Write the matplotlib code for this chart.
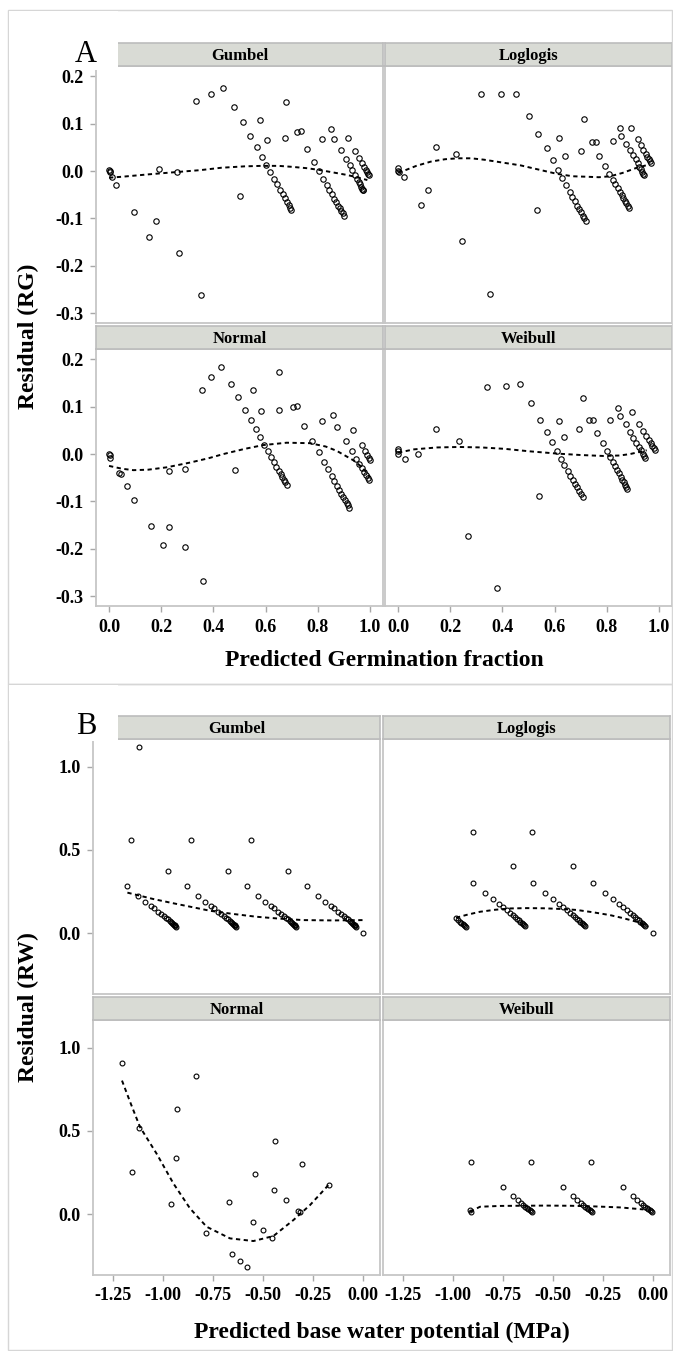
import matplotlib.pyplot as plt
from matplotlib.patches import Rectangle

plt.rcParams['font.family'] = ['Liberation Serif', 'DejaVu Serif']

# ---- A: residuals of germination fraction (RG) ----
a_gum_x = [0.000, 0.002, 0.004, 0.010, 0.027, 0.096, 0.153, 0.180, 0.190, 0.260, 0.268, 0.352, 0.503,
           0.332, 0.390, 0.438, 0.479, 0.512, 0.540, 0.566, 0.585, 0.603, 0.617, 0.632, 0.645, 0.655,
           0.665, 0.674, 0.682, 0.688, 0.693, 0.698,
           0.579, 0.605, 0.678, 0.676, 0.722, 0.736,
           0.757, 0.784, 0.805, 0.821, 0.834, 0.844, 0.853, 0.862, 0.869, 0.877, 0.884, 0.890, 0.895, 0.900,
           0.817, 0.852, 0.862, 0.916,
           0.890, 0.908, 0.923, 0.933, 0.943, 0.950, 0.957, 0.962, 0.967, 0.971, 0.973, 0.975,
           0.943, 0.959, 0.969, 0.977, 0.983, 0.989, 0.994, 0.996]
a_gum_y = [0.002, -0.002, 0.001, -0.012, -0.029, -0.087, -0.140, -0.106, 0.005, -0.003, -0.173, -0.262, -0.053,
           0.147, 0.163, 0.175, 0.135, 0.103, 0.075, 0.050, 0.030, 0.013, -0.002, -0.016, -0.028, -0.039,
           -0.049, -0.057, -0.065, -0.071, -0.077, -0.082,
           0.107, 0.065, 0.145, 0.070, 0.082, 0.084,
           0.047, 0.020, 0.000, -0.016, -0.029, -0.040, -0.049, -0.058, -0.066, -0.073, -0.079, -0.085, -0.089, -0.094,
           0.068, 0.089, 0.067, 0.070,
           0.045, 0.026, 0.013, 0.002, -0.008, -0.016, -0.023, -0.028, -0.033, -0.037, -0.039, -0.041,
           0.043, 0.028, 0.018, 0.009, 0.002, -0.003, -0.007, -0.009]
a_gum_fit_x = [0.0, 0.05, 0.15, 0.26, 0.35, 0.43, 0.52, 0.585, 0.65, 0.70, 0.76, 0.81, 0.86, 0.91, 0.95, 0.99]
a_gum_fit_y = [-0.014, -0.012, -0.007, -0.002, 0.002, 0.007, 0.010, 0.011, 0.011, 0.009, 0.006, 0.002,
               -0.003, -0.008, -0.013, -0.019]

a_log_x = [0.000, 0.001, 0.005, 0.024, 0.088, 0.116, 0.144, 0.221, 0.245, 0.351, 0.534,
           0.317, 0.393, 0.452, 0.500, 0.538, 0.569, 0.593, 0.613, 0.630, 0.645, 0.658, 0.668, 0.677,
           0.686, 0.693, 0.701, 0.707, 0.714, 0.719,
           0.617, 0.639, 0.714, 0.702, 0.744, 0.757,
           0.772, 0.794, 0.810, 0.823, 0.833, 0.842, 0.850, 0.858, 0.864, 0.870, 0.875, 0.881, 0.884,
           0.822, 0.850, 0.856, 0.894,
           0.875, 0.890, 0.902, 0.911, 0.919, 0.925, 0.930, 0.935, 0.939, 0.942,
           0.919, 0.930, 0.940, 0.949, 0.955, 0.961, 0.966, 0.970]
a_log_y = [0.006, 0.001, -0.003, -0.013, -0.072, -0.039, 0.051, 0.037, -0.148, -0.259, -0.082,
           0.163, 0.163, 0.163, 0.116, 0.078, 0.048, 0.023, 0.003, -0.015, -0.030, -0.044, -0.054, -0.064,
           -0.073, -0.080, -0.087, -0.094, -0.099, -0.105,
           0.069, 0.032, 0.111, 0.043, 0.061, 0.062,
           0.032, 0.011, -0.006, -0.018, -0.027, -0.036, -0.044, -0.051, -0.057, -0.063, -0.068, -0.073, -0.077,
           0.064, 0.092, 0.074, 0.090,
           0.058, 0.045, 0.034, 0.025, 0.016, 0.009, 0.004, -0.001, -0.006, -0.009,
           0.068, 0.055, 0.044, 0.036, 0.030, 0.025, 0.021, 0.018]
a_log_fit_x = [0.0, 0.024, 0.07, 0.126, 0.18, 0.228, 0.28, 0.33, 0.40, 0.47, 0.54, 0.61, 0.67, 0.724,
               0.77, 0.813, 0.86, 0.915, 0.95]
a_log_fit_y = [-0.003, 0.001, 0.011, 0.020, 0.025, 0.027, 0.027, 0.024, 0.018, 0.012, 0.003, -0.006,
               -0.011, -0.012, -0.013, -0.011, -0.004, 0.007, 0.012]

a_nor_x = [0.000, 0.002, 0.005, 0.040, 0.046, 0.068, 0.096, 0.162, 0.208, 0.230, 0.230, 0.291, 0.292, 0.360, 0.484,
           0.357, 0.392, 0.430, 0.466, 0.496, 0.521, 0.543, 0.562, 0.580, 0.595, 0.609, 0.621, 0.631, 0.641,
           0.650, 0.658, 0.664, 0.670, 0.676, 0.681,
           0.552, 0.581, 0.652, 0.651, 0.705, 0.720,
           0.748, 0.779, 0.803, 0.825, 0.839, 0.853, 0.863, 0.874, 0.882, 0.890, 0.898, 0.904, 0.911, 0.916, 0.921,
           0.817, 0.857, 0.874, 0.936,
           0.909, 0.931, 0.946, 0.958, 0.968, 0.977, 0.985, 0.991, 0.995,
           0.968, 0.982, 0.990, 0.995, 1.000]
a_nor_y = [0.001, -0.003, -0.008, -0.040, -0.042, -0.068, -0.096, -0.153, -0.192, -0.154, -0.036, -0.031, -0.196,
           -0.268, -0.034,
           0.135, 0.163, 0.184, 0.149, 0.120, 0.094, 0.073, 0.053, 0.036, 0.020, 0.006, -0.006, -0.017, -0.027,
           -0.035, -0.043, -0.049, -0.055, -0.060, -0.065,
           0.135, 0.090, 0.173, 0.094, 0.100, 0.102,
           0.060, 0.027, 0.004, -0.016, -0.032, -0.047, -0.057, -0.068, -0.076, -0.084, -0.091, -0.097, -0.103,
           -0.108, -0.113,
           0.070, 0.083, 0.057, 0.051,
           0.027, 0.006, -0.011, -0.021, -0.030, -0.038, -0.045, -0.051, -0.055,
           0.019, 0.006, -0.002, -0.008, -0.012]
a_nor_fit_x = [0.0, 0.05, 0.093, 0.15, 0.221, 0.31, 0.38, 0.438, 0.52, 0.591, 0.681, 0.770, 0.83, 0.872,
               0.936, 0.97, 1.0]
a_nor_fit_y = [-0.025, -0.031, -0.034, -0.033, -0.028, -0.018, -0.009, 0.000, 0.011, 0.019, 0.024, 0.023,
               0.016, 0.007, -0.013, -0.028, -0.048]

a_wei_x = [0.000, 0.000, 0.001, 0.028, 0.078, 0.145, 0.235, 0.270, 0.378, 0.542,
           0.340, 0.412, 0.468, 0.509, 0.543, 0.570, 0.590, 0.609, 0.625, 0.637, 0.650, 0.660, 0.671,
           0.679, 0.687, 0.695, 0.701, 0.707,
           0.618, 0.635, 0.707, 0.693, 0.733, 0.749,
           0.762, 0.784, 0.800, 0.813, 0.823, 0.832, 0.840, 0.847, 0.854, 0.860, 0.865, 0.870, 0.874, 0.879,
           0.813, 0.842, 0.850, 0.897,
           0.874, 0.889, 0.902, 0.912, 0.922, 0.930, 0.938, 0.943, 0.948,
           0.922, 0.939, 0.950, 0.961, 0.968, 0.975, 0.980, 0.984]
a_wei_y = [0.011, 0.006, 0.001, -0.011, 0.000, 0.052, 0.027, -0.173, -0.284, -0.089,
           0.142, 0.144, 0.149, 0.107, 0.073, 0.047, 0.025, 0.006, -0.010, -0.023, -0.035, -0.046, -0.055,
           -0.063, -0.070, -0.078, -0.084, -0.090,
           0.070, 0.037, 0.119, 0.053, 0.072, 0.072,
           0.045, 0.024, 0.007, -0.007, -0.017, -0.026, -0.034, -0.041, -0.048, -0.054, -0.060, -0.066,
           -0.070, -0.074,
           0.073, 0.098, 0.081, 0.089,
           0.063, 0.046, 0.035, 0.024, 0.015, 0.008, 0.001, -0.004, -0.009,
           0.064, 0.049, 0.038, 0.030, 0.023, 0.017, 0.012, 0.008]
a_wei_fit_x = [0.0, 0.062, 0.15, 0.234, 0.32, 0.41, 0.50, 0.61, 0.70, 0.787, 0.85, 0.889, 0.953]
a_wei_fit_y = [0.003, 0.010, 0.014, 0.015, 0.014, 0.011, 0.006, 0.001, -0.002, -0.004, -0.003, 0.000, 0.008]

# ---- B: residuals of base water potential (RW) ----
b_gum_x = [-1.178, -1.162, -1.123, -1.118, -1.088, -1.062, -1.043, -1.023, -1.008, -0.995, -0.984, -0.975,
           -0.973, -0.967, -0.960, -0.954, -0.949, -0.945, -0.941, -0.938, -0.935,
           -0.880, -0.862, -0.823, -0.788, -0.762, -0.743, -0.723, -0.708, -0.695, -0.684, -0.675,
           -0.673, -0.667, -0.660, -0.654, -0.649, -0.645, -0.641, -0.638, -0.635,
           -0.580, -0.562, -0.523, -0.488, -0.462, -0.443, -0.423, -0.408, -0.395, -0.384, -0.375,
           -0.375, -0.367, -0.360, -0.354, -0.349, -0.345, -0.341, -0.338, -0.335,
           -0.280, -0.225, -0.188, -0.162, -0.143, -0.123, -0.108, -0.095, -0.084, -0.075,
           -0.067, -0.060, -0.054, -0.049, -0.045, -0.041, -0.038, -0.035, 0.000]
b_gum_y = [0.283, 0.560, 0.225, 1.120, 0.185, 0.165, 0.149, 0.129, 0.115, 0.102, 0.091, 0.082,
           0.373, 0.073, 0.066, 0.059, 0.054, 0.050, 0.046, 0.042, 0.038,
           0.283, 0.560, 0.225, 0.185, 0.165, 0.149, 0.129, 0.115, 0.102, 0.091, 0.082,
           0.373, 0.073, 0.066, 0.059, 0.054, 0.050, 0.046, 0.042, 0.038,
           0.283, 0.560, 0.225, 0.185, 0.165, 0.149, 0.129, 0.115, 0.102, 0.091, 0.082,
           0.373, 0.073, 0.066, 0.059, 0.054, 0.050, 0.046, 0.042, 0.038,
           0.283, 0.225, 0.185, 0.165, 0.149, 0.129, 0.115, 0.102, 0.091, 0.082,
           0.073, 0.066, 0.059, 0.054, 0.050, 0.046, 0.042, 0.038, 0.002]
b_gum_fit_x = [-1.178, -1.05, -0.948, -0.85, -0.765, -0.65, -0.532, -0.42, -0.298, -0.15, 0.0]
b_gum_fit_y = [0.243, 0.205, 0.179, 0.155, 0.134, 0.115, 0.098, 0.087, 0.078, 0.076, 0.078]

b_log_x = [-0.985, -0.975, -0.966, -0.958, -0.951, -0.946, -0.941, -0.937,
           -0.902, -0.898, -0.840, -0.800, -0.772, -0.748, -0.730, -0.715, -0.702, -0.700, -0.690,
           -0.680, -0.671, -0.663, -0.656, -0.650, -0.645, -0.640,
           -0.603, -0.600, -0.540, -0.500, -0.472, -0.448, -0.430, -0.415, -0.402, -0.402, -0.390,
           -0.380, -0.371, -0.363, -0.356, -0.350, -0.345, -0.340,
           -0.300, -0.240, -0.200, -0.172, -0.148, -0.130, -0.115, -0.102, -0.090,
           -0.080, -0.071, -0.063, -0.056, -0.050, -0.045, -0.040, 0.000]
b_log_y = [0.088, 0.078, 0.069, 0.061, 0.054, 0.048, 0.043, 0.038,
           0.608, 0.303, 0.243, 0.203, 0.175, 0.155, 0.137, 0.122, 0.108, 0.406, 0.096,
           0.085, 0.076, 0.068, 0.061, 0.055, 0.049, 0.042,
           0.608, 0.303, 0.243, 0.203, 0.175, 0.155, 0.137, 0.122, 0.108, 0.406, 0.096,
           0.085, 0.076, 0.068, 0.061, 0.055, 0.049, 0.042,
           0.303, 0.243, 0.203, 0.175, 0.155, 0.137, 0.122, 0.108, 0.096,
           0.085, 0.076, 0.068, 0.061, 0.055, 0.049, 0.042, 0.002]
b_log_fit_x = [-0.985, -0.93, -0.865, -0.79, -0.715, -0.63, -0.548, -0.465, -0.382, -0.30, -0.215,
               -0.15, -0.082, -0.023]
b_log_fit_y = [0.092, 0.110, 0.128, 0.140, 0.148, 0.150, 0.149, 0.145, 0.139, 0.125, 0.108, 0.090,
               0.068, 0.038]

b_nor_x = [-1.205, -1.153, -1.118, -0.958, -0.937, -0.930, -0.833, -0.785, -0.670, -0.655, -0.613, -0.578,
           -0.548, -0.540, -0.502, -0.457, -0.445, -0.440, -0.383, -0.323, -0.315, -0.305, -0.170]
b_nor_y = [0.906, 0.253, 0.517, 0.062, 0.337, 0.629, 0.828, -0.112, 0.074, -0.241, -0.281, -0.317,
           -0.048, 0.241, -0.096, -0.144, 0.146, 0.439, 0.082, 0.020, 0.014, 0.303, 0.172]
b_nor_fit_x = [-1.205, -1.16, -1.115, -1.032, -0.948, -0.865, -0.782, -0.665, -0.548, -0.448, -0.348,
               -0.265, -0.173]
b_nor_fit_y = [0.802, 0.660, 0.523, 0.363, 0.184, 0.034, -0.076, -0.146, -0.162, -0.132, -0.036, 0.054, 0.174]

b_wei_x = [-0.915, -0.912,
           -0.910, -0.752, -0.700, -0.677, -0.660, -0.648, -0.638, -0.630, -0.623, -0.617, -0.612, -0.607,
           -0.610, -0.452, -0.402, -0.378, -0.360, -0.348, -0.338, -0.330, -0.323, -0.317, -0.312, -0.307,
           -0.312, -0.152, -0.102, -0.078, -0.060, -0.048, -0.038, -0.030, -0.023, -0.017, -0.012, -0.007]
b_wei_y = [0.024, 0.014,
           0.311, 0.160, 0.106, 0.082, 0.066, 0.055, 0.045, 0.037, 0.030, 0.024, 0.019, 0.014,
           0.311, 0.160, 0.106, 0.082, 0.066, 0.055, 0.045, 0.037, 0.030, 0.024, 0.019, 0.014,
           0.311, 0.160, 0.106, 0.082, 0.066, 0.055, 0.045, 0.037, 0.030, 0.024, 0.019, 0.014]
b_wei_fit_x = [-0.915, -0.865, -0.765, -0.665, -0.54, -0.415, -0.29, -0.165, -0.048]
b_wei_fit_y = [0.014, 0.044, 0.049, 0.050, 0.051, 0.050, 0.046, 0.040, 0.028]

a_xticks = [0.0, 0.2, 0.4, 0.6, 0.8, 1.0]
a_xlabels = ['0.0', '0.2', '0.4', '0.6', '0.8', '1.0']
a_yticks = [-0.3, -0.2, -0.1, 0.0, 0.1, 0.2]
a_ylabels = ['-0.3', '-0.2', '-0.1', '0.0', '0.1', '0.2']
b_xticks = [-1.25, -1.0, -0.75, -0.5, -0.25, 0.0]
b_xlabels = ['-1.25', '-1.00', '-0.75', '-0.50', '-0.25', '0.00']
b_yticks = [0.0, 0.5, 1.0]
b_ylabels = ['0.0', '0.5', '1.0']

W, H = 673, 1351
fig = plt.figure(figsize=(W / 100, H / 100), dpi=100)


def rect(l, t, r, b):
    return [l / W, 1 - b / H, (r - l) / W, (b - t) / H]


def draw_panel(box, strip, name, xs, ys, fx, fy, xlim, ylim, xt, xl, yt, yl, show_x, show_y, ms):
    ax = fig.add_axes(rect(*box))
    ax.plot(xs, ys, 'o', mfc='none', mec='black', ms=ms, mew=0.8, ls='none')
    ax.plot(fx, fy, color='black', lw=1.4, ls=(0, (2.2, 1.8)))
    ax.set_xlim(xlim)
    ax.set_ylim(ylim)
    for s in ax.spines.values():
        s.set_color('#c6c6c6')
        s.set_linewidth(1.3)
    ax.set_xticks(xt)
    ax.set_xticklabels(xl, fontweight='bold')
    ax.set_yticks(yt)
    ax.set_yticklabels(yl, fontweight='bold')
    ax.tick_params(direction='out', length=4, width=1, color='#a8a8a8', labelsize=13, pad=5)
    ax.tick_params(bottom=show_x, labelbottom=show_x, left=show_y, labelleft=show_y)

    sa = fig.add_axes(rect(*strip))
    sa.set_facecolor('#d9dbd5')
    sa.set_xticks([])
    sa.set_yticks([])
    for s in sa.spines.values():
        s.set_color('#bcbcbc')
        s.set_linewidth(1.2)
    sa.text(0.5, 0.45, name, transform=sa.transAxes, ha='center', va='center',
            fontsize=12, fontweight='bold')


a_xlim = (-0.05, 1.05)
a_ylim = (-0.321, 0.222)
b_xlim = (-1.35, 0.085)
b_ylim = (-0.366, 1.166)

draw_panel((96, 66, 383, 323), (96, 43, 383, 66), 'Gumbel', a_gum_x, a_gum_y, a_gum_fit_x, a_gum_fit_y,
           a_xlim, a_ylim, a_xticks, a_xlabels, a_yticks, a_ylabels, False, True, 3.9)
draw_panel((385, 66, 672, 323), (385, 43, 672, 66), 'Loglogis', a_log_x, a_log_y, a_log_fit_x, a_log_fit_y,
           a_xlim, a_ylim, a_xticks, a_xlabels, a_yticks, a_ylabels, False, False, 3.9)
draw_panel((96, 349, 383, 606), (96, 326, 383, 349), 'Normal', a_nor_x, a_nor_y, a_nor_fit_x, a_nor_fit_y,
           a_xlim, a_ylim, a_xticks, a_xlabels, a_yticks, a_ylabels, True, True, 3.9)
draw_panel((385, 349, 672, 606), (385, 326, 672, 349), 'Weibull', a_wei_x, a_wei_y, a_wei_fit_x, a_wei_fit_y,
           a_xlim, a_ylim, a_xticks, a_xlabels, a_yticks, a_ylabels, True, False, 3.9)

draw_panel((93, 739, 380, 994), (93, 716, 380, 739), 'Gumbel', b_gum_x, b_gum_y, b_gum_fit_x, b_gum_fit_y,
           b_xlim, b_ylim, b_xticks, b_xlabels, b_yticks, b_ylabels, False, True, 3.5)
draw_panel((383, 739, 670, 994), (383, 716, 670, 739), 'Loglogis', b_log_x, b_log_y, b_log_fit_x, b_log_fit_y,
           b_xlim, b_ylim, b_xticks, b_xlabels, b_yticks, b_ylabels, False, False, 3.5)
draw_panel((93, 1020, 380, 1275), (93, 997, 380, 1020), 'Normal', b_nor_x, b_nor_y, b_nor_fit_x, b_nor_fit_y,
           b_xlim, b_ylim, b_xticks, b_xlabels, b_yticks, b_ylabels, True, True, 3.5)
draw_panel((383, 1020, 670, 1275), (383, 997, 670, 1020), 'Weibull', b_wei_x, b_wei_y, b_wei_fit_x, b_wei_fit_y,
           b_xlim, b_ylim, b_xticks, b_xlabels, b_yticks, b_ylabels, True, False, 3.5)

# outer frames
for top, bottom in [(10, 684), (684, 1350)]:
    fig.add_artist(Rectangle((8 / W, 1 - bottom / H), (672 - 8) / W, (bottom - top) / H,
                             transform=fig.transFigure, fill=False, ec='#d6d6d6', lw=1, zorder=1))

# white label boxes for A / B that sit over the left end of the top strips
for top, bottom, label, yc in [(11, 70, 'A', 55), (685, 741, 'B', 727)]:
    fig.add_artist(Rectangle((9 / W, 1 - bottom / H), (118 - 9) / W, (bottom - top) / H,
                             transform=fig.transFigure, fc='white', ec='none', zorder=5))
    fig.text(86 / W, 1 - yc / H, label, fontsize=22, ha='center', va='center', zorder=6)

fig.text(28 / W, 1 - 336 / H, 'Residual (RG)', rotation=90, fontsize=17, fontweight='bold',
         ha='center', va='center')
fig.text(28 / W, 1 - 1007 / H, 'Residual (RW)', rotation=90, fontsize=17, fontweight='bold',
         ha='center', va='center')
fig.text(384 / W, 1 - 660 / H, 'Predicted Germination fraction', fontsize=17, fontweight='bold',
         ha='center', va='center')
fig.text(382 / W, 1 - 1332 / H, 'Predicted base water potential (MPa)', fontsize=17, fontweight='bold',
         ha='center', va='center')

fig.savefig('out.png', dpi=100)
